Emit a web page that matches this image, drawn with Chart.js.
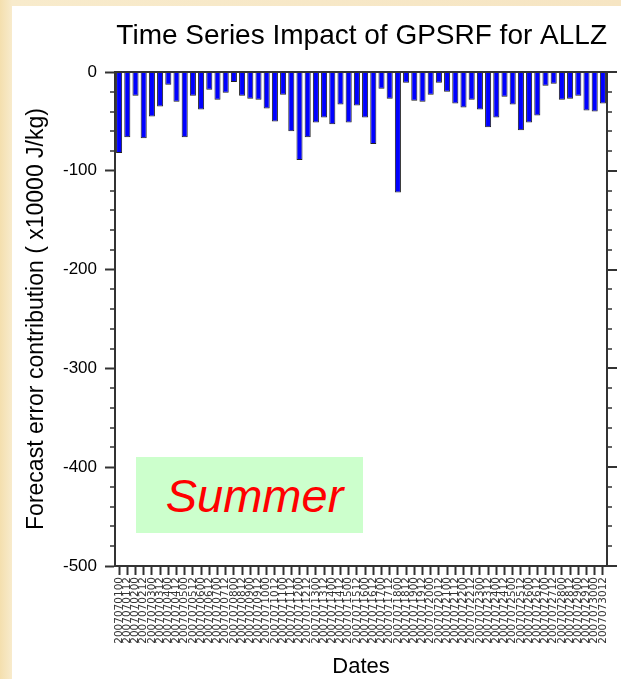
<!DOCTYPE html>
<html lang="en">
<head>
    <meta charset="UTF-8">
    <meta name="viewport" content="initial-scale=1.0">
    <title>Time Series Impact of GPSRF for ALLZ</title>
    <script src="https://cdn.jsdelivr.net/npm/chart.js"></script>
    <style>
        body { margin: 0; padding: 0; background: #f6e5c3; }
        #page { position: absolute; left: 0; top: 0; width: 621px; height: 679px;
                background: linear-gradient(90deg, #f4dfae 0px, #f8ebcc 12px, #f6e5c3 100%); }
        #panel { position: absolute; left: 12px; top: 6px; width: 609px; height: 673px; background: #fff; }
        #chart-container { position: absolute; left: 0; top: 0; width: 621px; height: 679px; }
        #season {
            position: absolute; left: 136px; top: 457px; width: 227px; height: 76px;
            background: #ccffcc; color: #ff0000;
            font-family: 'Liberation Sans', Arial, sans-serif; font-style: italic; font-size: 47px;
            display: flex; align-items: center; justify-content: center; padding-left: 10px; box-sizing: border-box;
        }
    </style>
</head>
<body>
<div id="page">
    <div id="panel"></div>
    <div id="chart-container">
        <canvas id="impactChart"></canvas>
    </div>
    <div id="season">Summer</div>
</div>

<script>
    // Dates (two cycles per day, July)
    const dates = [
        '2007070100','2007070112','2007070200','2007070212','2007070300','2007070312',
        '2007070400','2007070412','2007070500','2007070512','2007070600','2007070612',
        '2007070700','2007070712','2007070800','2007070812','2007070900','2007070912',
        '2007071000','2007071012','2007071100','2007071112','2007071200','2007071212',
        '2007071300','2007071312','2007071400','2007071412','2007071500','2007071512',
        '2007071600','2007071612','2007071700','2007071712','2007071800','2007071812',
        '2007071900','2007071912','2007072000','2007072012','2007072100','2007072112',
        '2007072200','2007072212','2007072300','2007072312','2007072400','2007072412',
        '2007072500','2007072512','2007072600','2007072612','2007072700','2007072712',
        '2007072800','2007072812','2007072900','2007072912','2007073000','2007073012'
    ];

    // Forecast error contribution (x10000 J/kg)
    const impact = [
        -82, -66, -24, -67, -45, -35, -13, -30, -66, -24,
        -38, -18, -28, -21, -10, -24, -27, -28, -37, -50,
        -23, -60, -89, -66, -51, -46, -53, -33, -51, -34,
        -46, -73, -17, -27, -122, -11, -29, -30, -23, -11,
        -20, -32, -36, -28, -38, -56, -46, -25, -33, -59,
        -51, -44, -14, -12, -28, -27, -24, -39, -40, -32
    ];

    // y axis range and tick steps
    const yMin = -500;
    const yMax = 0;
    const majorStep = 100;
    const minorStep = 20;

    const axisColor = '#333';
    const sansFont = "'Liberation Sans', Arial, Helvetica, sans-serif";

    // frame around the plot plus minor ticks and right-hand ticks
    const frameTicks = {
        id: 'frameTicks',
        afterDraw(chart) {
            const { ctx, chartArea: a, scales: { y } } = chart;
            ctx.save();
            ctx.strokeStyle = axisColor;
            ctx.lineWidth = 2;
            ctx.strokeRect(a.left, a.top, a.right - a.left, a.bottom - a.top);
            for (let v = yMin; v <= yMax; v += minorStep) {
                const py = Math.round(y.getPixelForValue(v));
                const major = v % majorStep === 0;
                ctx.lineWidth = major ? 2 : 1.5;
                ctx.beginPath();
                if (!major) {
                    ctx.moveTo(a.left - 5, py);
                    ctx.lineTo(a.left, py);
                }
                ctx.moveTo(a.right, py);
                ctx.lineTo(a.right + (major ? 10 : 5), py);
                ctx.stroke();
            }
            ctx.restore();
        }
    };

    const ctx = document.getElementById('impactChart').getContext('2d');
    const impactChart = new Chart(ctx, {
        type: 'bar',
        data: {
            labels: dates,
            datasets: [{
                label: 'GPSRF',
                data: impact,
                backgroundColor: '#0000ff',
                borderColor: '#222',
                borderWidth: 1,
                barPercentage: 0.74,
                categoryPercentage: 1.0
            }]
        },
        options: {
            responsive: true,
            maintainAspectRatio: false,
            animation: false,
            layout: { padding: { top: 0, right: 14, bottom: 0, left: 0 } },
            plugins: {
                legend: { display: false },
                tooltip: { enabled: false },
                title: {
                    display: true,
                    align: 'end', // title sits over the plot, flush with its right edge
                    text: 'Time Series Impact of GPSRF for ALLZ',
                    color: '#000',
                    font: { family: sansFont, size: 28, weight: 'normal', lineHeight: 1.2 },
                    padding: { top: 19, bottom: 19.4 }
                }
            },
            scales: {
                x: {
                    offset: true,
                    grid: { drawOnChartArea: false, offset: false, tickLength: 9, tickWidth: 2, tickColor: axisColor },
                    border: { display: true, color: axisColor, width: 2 },
                    ticks: {
                        autoSkip: false,
                        minRotation: 90,
                        maxRotation: 90,
                        padding: 2,
                        color: '#333',
                        font: { family: "'DejaVu Sans', sans-serif", size: 10.5 }
                    },
                    title: {
                        display: true,
                        text: 'Dates',
                        color: '#000',
                        font: { family: sansFont, size: 22, lineHeight: 1 },
                        padding: { top: 0, bottom: 1 }
                    },
                    afterFit(scale) { scale.height = 113; }
                },
                y: {
                    min: yMin,
                    max: yMax,
                    grid: { drawOnChartArea: false, tickLength: 10, tickWidth: 2, tickColor: axisColor },
                    border: { display: true, color: axisColor, width: 2 },
                    ticks: {
                        stepSize: majorStep,
                        padding: 8,
                        color: '#000',
                        font: { family: sansFont, size: 17 }
                    },
                    title: {
                        display: true,
                        text: 'Forecast error contribution ( x10000 J/kg)',
                        color: '#000',
                        font: { family: sansFont, size: 23, lineHeight: 1 },
                        padding: { top: 25, bottom: 0 }
                    },
                    afterFit(scale) { scale.width = 115; }
                }
            }
        },
        plugins: [frameTicks]
    });
</script>

</body>
</html>
